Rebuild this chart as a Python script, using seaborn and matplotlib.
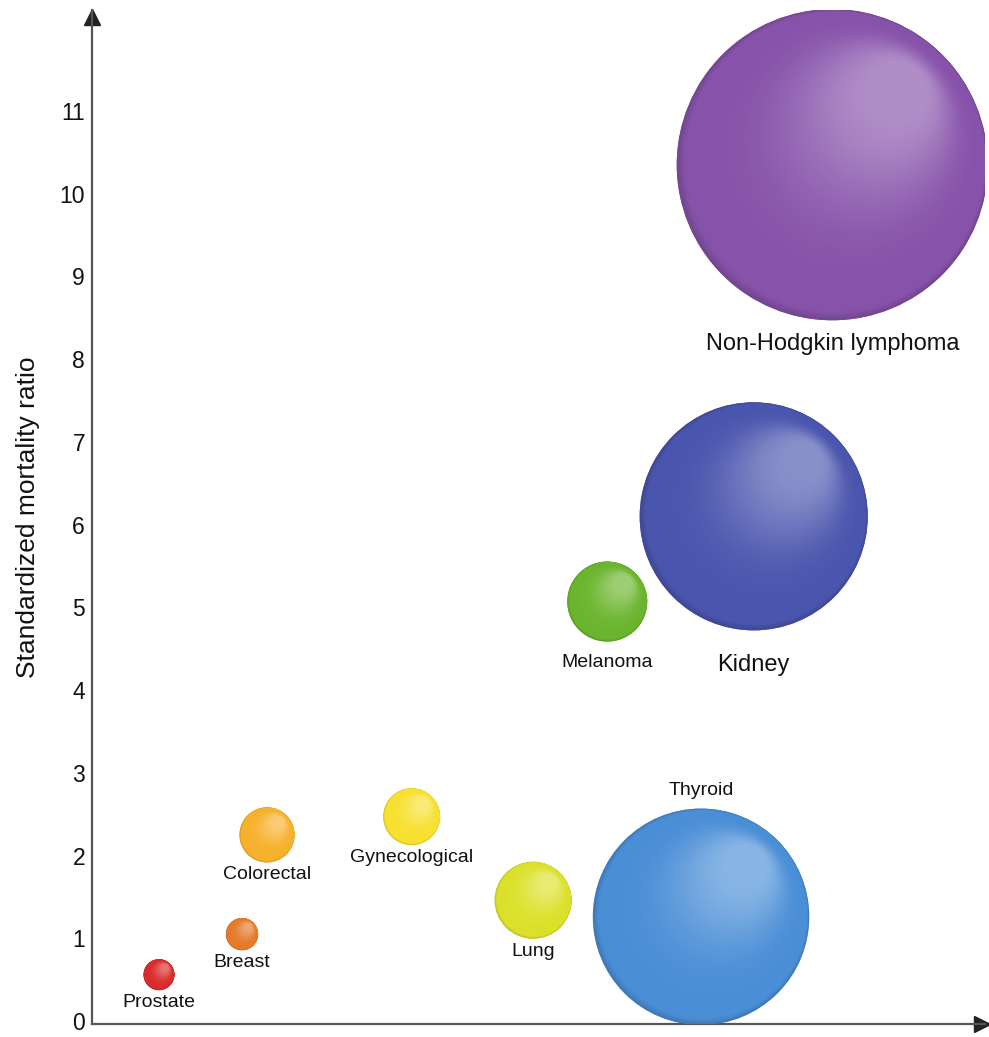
import numpy as np
import pandas as pd
import matplotlib
matplotlib.use("Agg")
import matplotlib.pyplot as plt
import seaborn as sns
from matplotlib.colors import to_rgb

# Cancer sites, their standardized mortality ratios and relative bubble weights
cancers = ["Prostate", "Breast", "Colorectal", "Gynecological", "Lung",
           "Melanoma", "Kidney", "Thyroid", "Non-Hodgkin lymphoma"]
position = [0.75, 1.68, 1.96, 3.58, 4.94, 5.77, 7.41, 6.82, 8.29]
smr = [0.56, 1.05, 2.25, 2.47, 1.46, 5.07, 6.10, 1.26, 10.35]
weight = [2.4, 2.6, 7.6, 8.1, 14.8, 16.0, 130.0, 117.0, 242.0]
colors = ["#d92b2b", "#e57a2a", "#f6b12c", "#f7e030", "#dbe12a",
          "#6bb52e", "#4a55ad", "#4a8ed6", "#8753aa"]
yticks = list(range(12))

df = pd.DataFrame({"cancer": cancers, "x": position, "smr": smr, "weight": weight})

sns.set_theme(style="white")
plt.rcParams["font.family"] = ["Liberation Sans", "DejaVu Sans"]

DPI = 100
fig = plt.figure(figsize=(9.89, 10.37), dpi=DPI)
ax = fig.add_axes([92 / 989, 13 / 1037, 893 / 989, 1014 / 1037])
ax.set_xlim(0, 10)
ax.set_ylim(-0.036, 12.22)

SCALE = 207.36  # marker area (pt^2) per unit of weight
wmax = max(weight)
sns.scatterplot(data=df, x="x", y="smr", size="weight", hue="cancer",
                palette=colors, sizes=(0, SCALE * wmax), size_norm=(0, wmax),
                linewidth=0, legend=False, ax=ax, zorder=2)

# Sphere shading: stacked discs shrinking toward an upper-right highlight
areas = np.array(weight) * SCALE
radii_px = np.sqrt(areas) / 2 * DPI / 72
centers = ax.transData.transform(np.column_stack([position, smr]))
inv = ax.transData.inverted()
base = np.array([to_rgb(c) for c in colors])
rim = base * 0.86
light = base + (1 - base) * 0.34
hx, hy = 0.52, 0.58
N = 70
TMAX = 0.85
for k in range(N):
    t = TMAX * k / (N - 1)
    pts = centers + np.column_stack([radii_px * hx * t, radii_px * hy * t])
    data_pts = inv.transform(pts)
    if t < 0.03:
        a = t / 0.03
        col = rim + (base - rim) * a
    else:
        u = (t - 0.03) / (TMAX - 0.03)
        a = (u * u * (3 - 2 * u)) ** 1.8
        col = base + (light - base) * a
    ax.scatter(data_pts[:, 0], data_pts[:, 1], s=areas * (1 - t) ** 2,
               c=np.clip(col, 0, 1), linewidths=0, zorder=3 + k * 0.001)

# Labels beneath (or above) each bubble
big = {"Kidney", "Non-Hodgkin lymphoma"}
gaps = {"Melanoma": 12, "Kidney": 24, "Non-Hodgkin lymphoma": 13, "Thyroid": 10}
for name, x, y, r in zip(cancers, position, smr, radii_px):
    g = gaps.get(name, 4)
    fs = 17 if name in big else 14
    if name == "Thyroid":
        off, va = (r + g) * 72 / DPI, "bottom"
    else:
        off, va = -(r + g) * 72 / DPI, "top"
    ax.annotate(name, (x, y), xytext=(0, off), textcoords="offset points",
                ha="center", va=va, fontsize=fs, color="#111111", zorder=10)

# Axes styling: left/bottom lines with arrowheads, no x ticks
for side in ("top", "right"):
    ax.spines[side].set_visible(False)
for side in ("left", "bottom"):
    ax.spines[side].set_color("#555555")
    ax.spines[side].set_linewidth(1.6)
ax.set_xticks([])
ax.set_yticks(yticks)
ax.set_yticklabels([str(v) for v in yticks])
ax.tick_params(axis="y", length=0, pad=5, labelsize=16.5, labelcolor="#111111")
ax.set_xlabel("")
ax.set_ylabel("Standardized mortality ratio", fontsize=19, color="#111111", labelpad=14)
ax.plot(0, 0.993, "^", color="#222222", markersize=11, transform=ax.transAxes, clip_on=False)
ax.plot(0.997, 0, ">", color="#222222", markersize=11, transform=ax.transAxes, clip_on=False)

fig.savefig("out.png", dpi=DPI, facecolor="white")
